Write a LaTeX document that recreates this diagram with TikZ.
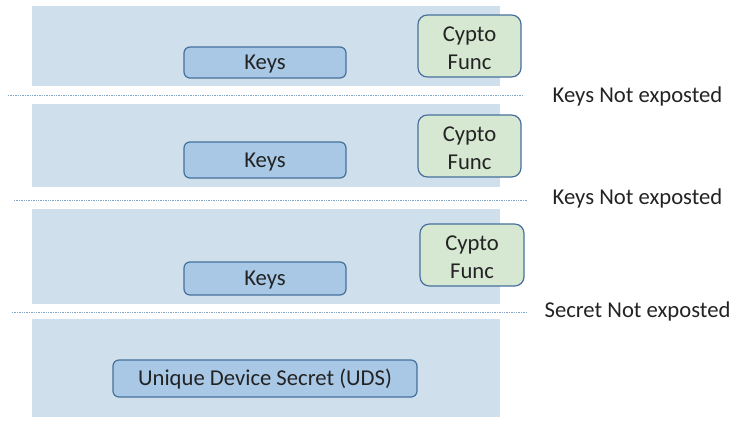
\documentclass[tikz,border=0pt]{standalone}
\usepackage{fontspec}
\setmainfont{Carlito}
\usepackage{xcolor}

\definecolor{bandblue}{RGB}{207,224,236}
\definecolor{keyblue}{RGB}{168,200,230}
\definecolor{edgeblue}{RGB}{70,112,155}
\definecolor{funcgreen}{RGB}{214,232,210}
\definecolor{dotblue}{RGB}{130,165,200}
\definecolor{txtgray}{RGB}{35,35,35}

\tikzset{
  band/.style={fill=bandblue, draw=none, minimum width=468*0.75pt, inner sep=0pt},
  keybox/.style={draw=edgeblue, fill=keyblue, line width=0.9pt, rounded corners=4.5pt,
    minimum width=162*0.75pt, inner sep=0pt, text height=14pt, text depth=3pt,
    font=\fontsize{17}{20}\selectfont, text=txtgray},
  funcbox/.style={draw=edgeblue, fill=funcgreen, line width=0.9pt, rounded corners=7pt,
    minimum width=103*0.75pt, minimum height=62*0.75pt, inner sep=0pt, align=center,
    text height=34.5pt, text depth=0pt,
    font=\fontsize{17}{20.5}\selectfont, text=txtgray},
  sepline/.style={dotblue, line width=0.6pt, dash pattern=on 1pt off 0.8pt},
  seplabel/.style={font=\fontsize{17}{20}\selectfont, text=txtgray}
}

\begin{document}
\begin{tikzpicture}[x=0.75pt, y=-0.75pt]
  \useasboundingbox (0,0) rectangle (737,425);

  % layers
  \node[band, minimum height=80*0.75pt] (band1) at (266,46) {};
  \node[band, minimum height=83*0.75pt] (band2) at (266,145.5) {};
  \node[band, minimum height=95*0.75pt] (band3) at (266,256.5) {};
  \node[band, minimum height=98*0.75pt] (band4) at (266,368) {};

  % layer contents
  \node[keybox, minimum height=31*0.75pt] (keys1) at (265,62.5) {Keys};
  \node[funcbox] (func1) at (469.5,46) {Cypto\\Func};
  \node[keybox, minimum height=36*0.75pt] (keys2) at (265,160) {Keys};
  \node[funcbox] (func2) at (469.5,146) {Cypto\\Func};
  \node[keybox, minimum height=33*0.75pt] (keys3) at (265,278.5) {Keys};
  \node[funcbox, minimum width=104*0.75pt] (func3) at (472,255) {Cypto\\Func};
  \node[keybox, minimum width=304*0.75pt, minimum height=37*0.75pt] (uds) at (265,378.5)
    {Unique Device Secret (UDS)};

  % separators
  \coordinate (sep1a) at (8,95);   \coordinate (sep1b) at (524,95);
  \coordinate (sep2a) at (14,200); \coordinate (sep2b) at (527,200);
  \coordinate (sep3a) at (12,312); \coordinate (sep3b) at (527,312);
  \draw[sepline] (sep1a) -- (sep1b);
  \draw[sepline] (sep2a) -- (sep2b);
  \draw[sepline] (sep3a) -- (sep3b);

  \node[seplabel] (lab1) at (637.5,96) {Keys Not exposted};
  \node[seplabel] (lab2) at (637.5,198) {Keys Not exposted};
  \node[seplabel] (lab3) at (637.5,311) {Secret Not exposted};
\end{tikzpicture}
\end{document}
